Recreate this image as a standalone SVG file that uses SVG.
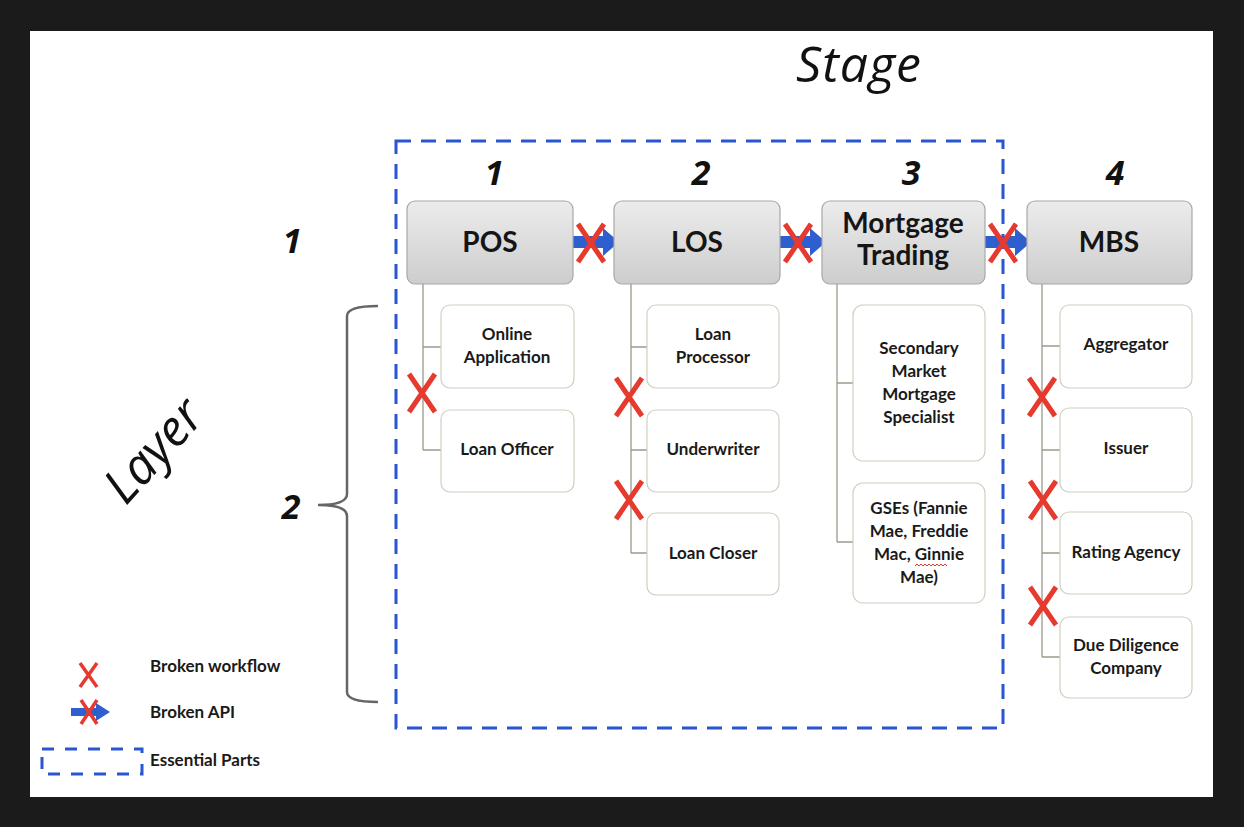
<svg xmlns="http://www.w3.org/2000/svg" width="1244" height="827" viewBox="0 0 1244 827">
<defs>
<linearGradient id="gTop" x1="0" y1="0" x2="0" y2="1">
<stop offset="0" stop-color="#ececec"/>
<stop offset="1" stop-color="#cdcdcd"/>
</linearGradient>
<g id="apiArrow">
<path d="M0,-6 L30,-6 L30,-14 L46,0 L30,14 L30,6 L0,6 Z" fill="#2f5fcf"/>
</g>
<g id="xmark">
<path d="M-13,-19 L13,19 M13,-19 L-13,19" stroke="#e63a2e" stroke-width="5" stroke-linecap="butt" fill="none"/>
</g>
</defs>
<style>
.top{fill:url(#gTop);stroke:#a8a8a8;stroke-width:1.2}
.child{fill:#ffffff;stroke:#cfd0c0;stroke-width:1.2}
.tt{font-family:Lato,"Open Sans",sans-serif;font-size:28px;font-weight:bold;fill:#151515;text-anchor:middle}
.ct{font-family:Lato,"Open Sans",sans-serif;font-size:17px;font-weight:bold;fill:#1a1a1a;text-anchor:middle}
.num{font-family:"Open Sans",Lato,sans-serif;font-size:34px;font-style:italic;font-weight:bold;fill:#111;text-anchor:middle}
.big{font-family:"Open Sans",Lato,sans-serif;font-size:50px;font-style:italic;fill:#111;text-anchor:middle}
.leg{font-family:Lato,"Open Sans",sans-serif;font-size:17px;font-weight:bold;fill:#1a1a1a}
.tree{stroke:#9a9a8a;stroke-width:1.3;fill:none}
.dash{fill:none;stroke:#2a55d0;stroke-width:3;stroke-dasharray:15 10}
</style>
<rect x="0" y="0" width="1244" height="827" fill="#1b1b1b"/>
<rect x="30" y="31" width="1183" height="766" fill="#ffffff"/>

<text class="big" x="859" y="82" letter-spacing="1">Stage</text>
<text class="big" x="166" y="462" transform="rotate(-48 166 462)">Layer</text>
<text class="num" x="292" y="253">1</text>
<text class="num" x="291" y="519">2</text>
<path d="M378,306 Q347,306 347,316 L347,494 Q347,505 318,505 Q347,505 347,516 L347,692 Q347,702 378,702" fill="none" stroke="#666" stroke-width="2.5"/>

<text class="num" x="494" y="185">1</text>
<text class="num" x="701" y="185">2</text>
<text class="num" x="911" y="185">3</text>
<text class="num" x="1115" y="185">4</text>

<rect id="essential" class="dash" x="396" y="141" width="607" height="587"/>

<g id="connectors">
<path class="tree" d="M423,284 L423,450 M423,347 L441,347 M423,450 L441,450"/>
<path class="tree" d="M631,284 L631,553 M631,347 L647,347 M631,450 L647,450 M631,553 L647,553"/>
<path class="tree" d="M837,284 L837,542 M837,383 L853,383 M837,542 L853,542"/>
<path class="tree" d="M1042,284 L1042,657 M1042,346 L1060,346 M1042,450 L1060,450 M1042,553 L1060,553 M1042,657 L1060,657"/>
<use href="#apiArrow" x="573" y="242"/>
<use href="#apiArrow" x="780" y="242"/>
<use href="#apiArrow" x="985" y="242"/>
<use href="#xmark" x="591" y="243"/>
<use href="#xmark" x="798" y="243"/>
<use href="#xmark" x="1003" y="243"/>
<use href="#xmark" x="422" y="393"/>
<use href="#xmark" x="629" y="397"/>
<use href="#xmark" x="629" y="500"/>
<use href="#xmark" x="1042" y="397"/>
<use href="#xmark" x="1043" y="500"/>
<use href="#xmark" x="1043" y="606"/>
</g>

<g id="pos"><rect class="top" x="407" y="201" width="166" height="83" rx="8"/><text class="tt" x="490" y="252">POS</text></g>
<g id="los"><rect class="top" x="614" y="201" width="166" height="83" rx="8"/><text class="tt" x="697" y="252">LOS</text></g>
<g id="mortgage-trading"><rect class="top" x="822" y="201" width="163" height="83" rx="8"/><text class="tt" x="903" y="233">Mortgage</text><text class="tt" x="903" y="265">Trading</text></g>
<g id="mbs"><rect class="top" x="1027" y="201" width="165" height="83" rx="8"/><text class="tt" x="1109" y="252">MBS</text></g>

<g id="online-application"><rect class="child" x="441" y="305" width="133" height="83" rx="9"/><text class="ct" x="507" y="340">Online</text><text class="ct" x="507" y="363">Application</text></g>
<g id="loan-officer"><rect class="child" x="441" y="410" width="133" height="82" rx="9"/><text class="ct" x="507" y="455">Loan Officer</text></g>

<g id="loan-processor"><rect class="child" x="647" y="305" width="132" height="83" rx="9"/><text class="ct" x="713" y="340">Loan</text><text class="ct" x="713" y="363">Processor</text></g>
<g id="underwriter"><rect class="child" x="647" y="410" width="132" height="82" rx="9"/><text class="ct" x="713" y="455">Underwriter</text></g>
<g id="loan-closer"><rect class="child" x="647" y="513" width="132" height="82" rx="9"/><text class="ct" x="713" y="559">Loan Closer</text></g>

<g id="secondary-market"><rect class="child" x="853" y="305" width="132" height="156" rx="10"/><text class="ct" x="919" y="354">Secondary</text><text class="ct" x="919" y="377">Market</text><text class="ct" x="919" y="400">Mortgage</text><text class="ct" x="919" y="423">Specialist</text></g>
<g id="gses"><rect class="child" x="853" y="483" width="132" height="120" rx="10"/><text class="ct" x="919" y="514">GSEs (Fannie</text><text class="ct" x="919" y="537">Mae, Freddie</text><text class="ct" x="919" y="560">Mac, Ginnie</text><text class="ct" x="919" y="583">Mae)</text>
<path d="M915,566 l2,-2 l2,2 l2,-2 l2,2 l2,-2 l2,2 l2,-2 l2,2 l2,-2 l2,2 l2,-2 l2,2 l2,-2 l2,2 l2,-2 l2,2" fill="none" stroke="#e03a2e" stroke-width="1"/></g>

<g id="aggregator"><rect class="child" x="1060" y="305" width="132" height="83" rx="9"/><text class="ct" x="1126" y="350">Aggregator</text></g>
<g id="issuer"><rect class="child" x="1060" y="408" width="132" height="84" rx="9"/><text class="ct" x="1126" y="454">Issuer</text></g>
<g id="rating-agency"><rect class="child" x="1060" y="512" width="132" height="82" rx="9"/><text class="ct" x="1126" y="558">Rating Agency</text></g>
<g id="due-diligence"><rect class="child" x="1060" y="617" width="132" height="81" rx="9"/><text class="ct" x="1126" y="651">Due Diligence</text><text class="ct" x="1126" y="674">Company</text></g>

<g id="legend">
<path d="M80,663 L97,687 M97,663 L80,687" stroke="#e63a2e" stroke-width="3.5" fill="none"/>
<text class="leg" x="150" y="672">Broken workflow</text>
<path d="M71,708 L96,708 L96,703 L110,712 L96,721 L96,716 L71,716 Z" fill="#2f5fcf"/>
<path d="M81,700 L97,724 M97,700 L81,724" stroke="#e63a2e" stroke-width="3.5" fill="none"/>
<text class="leg" x="150" y="718">Broken API</text>
<rect class="dash" x="42" y="749" width="100" height="25" style="stroke-dasharray:12 11"/>
<text class="leg" x="150" y="766">Essential Parts</text>
</g>
</svg>
